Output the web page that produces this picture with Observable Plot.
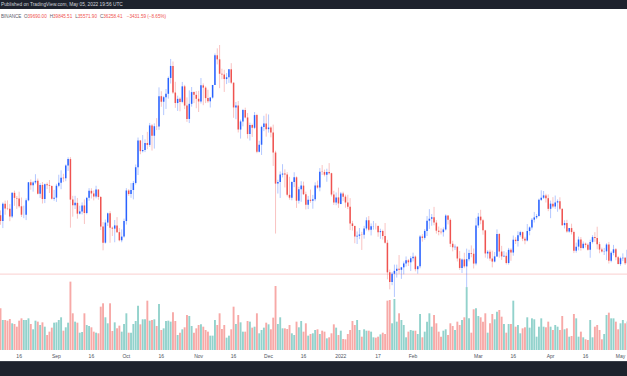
<!DOCTYPE html>
<html><head><meta charset="utf-8">
<script src="https://cdn.jsdelivr.net/npm/d3@7"></script>
<script src="https://cdn.jsdelivr.net/npm/@observablehq/plot@0.6"></script>
<style>
html,body{margin:0;padding:0;background:#fff;width:627px;height:376px;overflow:hidden;font-family:"Liberation Sans",Arial,sans-serif}
#wrap{position:relative;width:627px;height:376px;overflow:hidden}
#top{position:absolute;left:0;top:0;width:627px;height:9px;background:#1e222d;color:#d1d4dc;font-size:4.8px;line-height:9px;white-space:nowrap}
#top span{position:absolute;left:1px;top:0}
#legend{position:absolute;left:1px;top:13.5px;font-size:4.6px;line-height:5px;white-space:nowrap;color:#5d606b;z-index:3}
#legend .v{color:#ef5350;margin-right:3px}
#chart{position:absolute;left:0;top:9px;width:627px;height:352px}
#chart svg{position:absolute;left:0;top:0;background:transparent}
#foot{position:absolute;left:0;top:361px;width:627px;height:15px;background:#1e222d;border-top:1px solid #3a3e49;box-sizing:border-box}
</style></head>
<body>
<div id="wrap">
  <div id="top"><span>Published on TradingView.com, May 05, 2022 19:56 UTC</span></div>
  <div id="legend"></div>
  <div id="chart"></div>
  <div id="foot"></div>
</div>
<script>
const exchange = "BINANCE";
const startDate = "2021-08-08";
const opens = [
44614,43792,46284,45595,45553,44428,47834,47108,47015,45903,44696,44705,46760,49339,48905,49321,49546,47706,48960,46942,49058,48902,48806,46991,
47144,48847,49270,49999,49916,51756,52664,46863,46048,46396,44851,45172,46026,44940,47111,48122,47737,47300,48293,47242,42998,40694,43575,44896,42840,42704,43170,42200,41034,41564,
43790,48165,47657,48233,49245,51493,55339,53797,53963,54963,54691,57485,56006,57367,57347,61672,60875,61528,62010,64280,66001,62193,60688,61286,60852,63078,60328,58413,60575,62253,61859,
61300,60911,63219,62896,61395,60937,61470,63273,67525,66947,64882,64774,64122,64380,65519,63606,60058,60344,56891,58052,59707,58622,56247,57541,57138,58960,53726,54721,57274,57776,
56950,57184,56480,53601,49152,49397,50441,50588,50471,47545,47140,49389,50053,46702,48343,48864,47632,46131,46834,46681,46914,48890,48588,50838,50821,50429,50810,50640,47589,46444,47178,
46216,47722,47286,46446,45832,43451,43082,41566,41679,41864,41822,42729,43902,42560,43059,43084,43071,42201,42352,41660,40680,36445,35071,36244,36660,36958,36809,37160,37716,38166,37881,
38466,38694,36896,37311,41574,41382,42380,43840,44118,44338,43565,42407,42244,42197,42586,44575,43961,40538,40030,40123,38431,37075,38287,37296,38333,39215,39106,37700,
43160,44421,43892,42455,39148,39397,38420,37988,38731,41941,39422,38730,38807,37778,39671,39280,41115,40917,41757,42201,41262,41002,42364,42882,43991,44313,44511,46827,47128,47465,47063,
45538,46281,45868,46453,46622,45555,43206,43503,42287,42782,42207,39521,40127,41147,39942,40552,40378,39678,40801,41493,41358,40480,39709,39441,39450,40427,38112,39235,39742,38597,
37630,38468,38525,37729,39690.00];
const highs = [
45310,46454,46718,46744,46218,47886,48144,47373,47998,47160,46000,47033,49382,49757,49500,50500,49875,49226,49380,49168,49309,49666,48906,48250,
49125,50420,51054,50558,51900,52920,52944,47400,47400,47100,45989,46460,46876,47250,48500,48486,48169,48843,48372,47358,43640,44000,45000,45200,42998,43937,44350,42787,42590,44141,
48495,48359,49228,49530,51886,55750,55339,56100,55489,56561,57839,57680,57777,58532,62933,62378,61718,62695,64486,67000,66639,63732,61747,61500,63710,63293,61496,62499,62980,62359,62405,
62437,64270,63500,63086,62595,61560,63286,67789,68524,69000,65600,65450,64990,65550,66401,63617,60840,60976,58320,59845,60029,59266,57875,57735,59398,59150,55280,57445,58865,59176,
59053,57375,57600,53859,49699,50891,51936,51200,50797,50125,49485,50777,50189,48700,49500,49436,47995,47392,48300,47537,49328,49576,51375,51810,51156,51280,52088,50704,48119,47879,48576,
47954,47990,47570,47557,47070,43816,43145,42300,42786,42248,43100,44322,44500,43448,43800,43475,43176,42691,42559,43505,41100,36835,36499,37550,37545,38919,37234,38000,38720,38359,38744,
39265,38855,37387,41772,41913,42656,44500,45492,44799,45821,43920,43000,42760,42876,44751,44583,44164,40959,40444,40125,39494,38430,39249,39843,39683,40300,39855,44225,
44949,45400,44101,42527,39613,39693,39547,39362,42594,42039,40236,39486,39310,39947,39887,41718,41478,42325,42400,42296,41544,43361,43025,44220,45094,44792,46999,48190,48096,47700,47600,
46720,47213,47444,46890,47200,45555,43900,43970,42800,43410,42414,40699,41561,41500,40870,40709,40595,41116,41760,42199,42976,40795,39980,39940,40617,40797,39474,40372,39925,38795,
38675,39167,38650,39980,39845.51];
const lows = [
43261,42779,44700,45350,43771,44218,45971,45525,45700,44376,44203,43927,46622,48273,48000,49074,47600,47100,46300,46361,48370,47800,46862,46700,
46537,48630,48350,49370,49500,50969,42843,44412,45513,44132,44730,44742,43370,44750,46700,47016,46750,47044,46829,42500,39600,40565,43077,40675,41646,40750,42099,40888,40753,41410,
43283,47400,47120,46891,49022,50382,53357,53617,53661,54080,54415,53879,54167,56818,56850,60150,58963,59844,61322,63481,62000,60000,59562,59510,60650,59817,58000,57820,60174,60673,59945,
59405,60624,60382,60677,60721,60050,61322,63273,66222,62822,64100,62278,63400,63576,63400,58574,58373,56474,55600,57353,58486,55610,55317,55837,56952,53500,53610,53256,56666,55875,
56458,55777,51680,42000,47727,47100,50039,48600,47320,46852,46751,48638,45672,46290,46547,47511,45456,45500,46406,45558,46630,48421,48049,50384,50188,49412,50449,47313,46098,46060,45678,
46208,46654,45696,45502,42500,42430,40610,40501,41200,39650,41268,42450,42311,41725,42555,42581,41540,41250,41138,40553,35440,34008,34601,32917,35701,36234,35507,36155,37268,37351,36632,
38000,36586,36250,37026,40843,41116,41645,42666,43117,43187,42000,41748,41870,41570,42427,43310,40073,39450,39639,38000,36800,36350,37036,34322,38014,38600,37000,37450,
42809,43334,41833,38550,38407,38088,37155,37867,38657,38539,38223,38660,37578,37555,38098,38828,40500,40135,41499,40911,40467,40875,41751,42560,43579,44071,44421,46663,46950,46445,45200,
44200,45620,45530,45118,45353,43121,42727,42107,42125,41868,39200,39254,39588,39551,39766,39991,39546,38536,40571,40820,39751,39177,39285,38929,38200,37702,37881,38881,38175,37578,
37386,38052,37500,37670,35571.90];
const closes = [
43792,46284,45595,45553,44428,47834,47108,47015,45903,44696,44705,46760,49339,48905,49321,49546,47706,48960,46942,49058,48902,48806,46991,47144,
48847,49270,49999,49916,51756,52664,46863,46048,46396,44851,45172,46026,44940,47111,48122,47737,47300,48293,47242,42998,40694,43575,44896,42840,42704,43170,42200,41034,41564,43790,
48165,47657,48233,49245,51493,55339,53797,53963,54963,54691,57485,56006,57367,57347,61672,60875,61528,62010,64280,66001,62193,60688,61286,60852,63078,60328,58413,60575,62253,61859,61300,
60911,63219,62896,61395,60937,61470,63273,67525,66947,64882,64774,64122,64380,65519,63606,60058,60344,56891,58052,59707,58622,56247,57541,57138,58960,53726,54721,57274,57776,56950,
57184,56480,53601,49152,49397,50441,50588,50471,47545,47140,49389,50053,46702,48343,48864,47632,46131,46834,46681,46914,48890,48588,50838,50821,50429,50810,50640,47589,46444,47178,46306,
47722,47286,46446,45832,43451,43082,41566,41679,41864,41822,42729,43902,42560,43059,43084,43071,42201,42352,41660,40680,36445,35071,36244,36660,36958,36809,37160,37716,38166,37881,38466,
38694,36896,37311,41574,41382,42380,43840,44118,44338,43565,42407,42244,42197,42586,44575,43961,40538,40030,40123,38431,37075,38287,37296,38333,39215,39106,37700,43160,
44421,43892,42455,39148,39397,38420,37988,38731,41941,39422,38730,38807,37778,39671,39280,41115,40917,41757,42201,41262,41002,42364,42882,43991,44313,44511,46827,47128,47465,47063,45538,
46281,45868,46453,46622,45555,43206,43503,42287,42782,42207,39521,40127,41147,39942,40552,40378,39678,40801,41493,41358,40480,39709,39441,39450,40427,38112,39235,39742,38597,37630,
38468,38525,37729,39690,36258.41];
// volume, thousands of BTC
const volumes = [
72.9,52.5,52.5,51.3,54.2,46.7,45.5,40.8,51.3,55.4,
52.5,52.5,55.4,45.5,36.2,51.3,49.6,43.7,48.4,40.8,
26.2,32.1,39.1,47.8,48.4,52.5,57.2,33.8,39.7,47.8,
119.6,64.2,49.6,47.8,30.3,31.5,64.2,43.7,42.0,39.7,
32.1,30.3,29.2,75.8,81.7,57.2,46.7,81.7,33.2,48.4,
37.9,42.6,32.1,45.5,64.2,30.3,30.3,45.5,50.7,77.6,
44.9,53.7,53.7,86.3,51.3,52.5,53.7,42.0,80.5,35.0,
37.9,50.7,51.3,49.6,65.9,50.7,26.2,30.3,36.2,39.7,
61.2,59.5,42.0,30.3,37.9,43.7,44.9,40.8,35.0,32.1,
25.1,25.1,52.5,43.7,64.2,36.7,43.7,21.6,25.1,36.2,
75.8,45.5,61.2,48.4,32.1,32.1,50.7,49.6,39.1,40.8,
64.2,29.2,35.0,39.1,47.8,44.9,36.2,56.6,112.0,45.5,
57.2,37.9,37.9,36.7,43.7,29.2,26.2,49.6,39.7,50.7,
32.1,46.7,25.1,28.0,
29.2,35.0,36.2,28.0,33.8,32.1,20.4,22.2,29.2,44.9,
39.1,26.2,33.8,19.2,18.7,28.0,35.0,50.7,43.7,52.5,
35.0,23.3,36.2,33.8,33.8,32.1,22.2,21.6,23.3,27.4,
30.3,28.0,86.3,87.5,46.7,89.2,
49.6,64.2,52.5,43.7,22.2,32.1,35.0,33.8,33.8,28.0,
63.0,22.2,32.1,49.6,64.2,40.8,61.2,46.7,32.1,23.3,
33.8,36.2,26.2,46.7,42.0,35.0,49.6,43.7,52.5,57.2,
110.0,
55.4,30.3,71.2,72.9,59.5,57.2,49.6,64.2,30.3,46.7,
63.0,53.7,67.1,70.0,58.3,45.5,30.3,45.5,45.5,86.3,
40.8,43.7,29.2,37.9,39.7,57.2,39.1,55.4,53.7,23.3,
40.8,55.4,40.8,39.7,49.6,40.8,35.0,43.7,40.8,35.0,
59.5,36.2,37.9,23.3,24.5,63.0,55.4,23.3,32.1,22.2,
18.7,17.5,52.5,22.2,40.8,43.7,35.0,18.7,28.0,61.2,
65.3,55.4,55.4,49.6,36.2,46.7,52.5,46.7,
50.0,80.0];
const tickDates = ["2021-08-16","2021-09-01","2021-09-16","2021-10-01","2021-10-16","2021-11-01","2021-11-16","2021-12-01","2021-12-16","2022-01-01","2022-01-17","2022-02-01","2022-03-01","2022-03-16","2022-04-01","2022-04-16","2022-05-01"];
const tickLabels = ["16","Sep","16","Oct","16","Nov","16","Dec","16","2022","17","Feb","Mar","16","Apr","16","May"];

const upColor = "#2962ff", downColor = "#ef5350";
const volUp = "#92d2cc", volDown = "#f7a9a7";

const start = new Date(startDate + "T00:00:00Z");
const rows = opens.map((o, i) => ({
  date: d3.utcDay.offset(start, i),
  open: o, high: highs[i], low: lows[i], close: closes[i], volume: volumes[i]
}));
const ticks = tickDates.map(s => new Date(s + "T00:00:00Z"));
const labelOf = new Map(ticks.map((t, i) => [+t, tickLabels[i]]));

const W = 627, H = 352;
const xScale = {type: "utc", domain: [new Date("2021-08-08T00:00:00Z"), new Date("2022-05-04T00:00:00Z")], range: [0, W], axis: null};

const volPlot = Plot.plot({
  width: W, height: H, margin: 0,
  x: xScale,
  y: {domain: [0, 120], range: [341, 341 - 68.6], axis: null},
  color: {type: "identity"},
  marks: [
    Plot.ruleX(rows, {x: "date", y1: 0, y2: "volume", stroke: d => d.close >= d.open ? volUp : volDown, strokeWidth: 1.9, clip: true})
  ]
});

const last = rows[rows.length - 1], prev = rows[rows.length - 2];
const pricePlot = Plot.plot({
  width: W, height: H, margin: 0, marginBottom: 9,
  style: {fontFamily: "Liberation Sans, Arial, sans-serif", fontSize: "5px", color: "#50535e", background: "transparent"},
  x: xScale,
  y: {domain: [30000, 69000], range: [36 + 39000 / 143.2, 36], axis: null},
  color: {type: "identity"},
  marks: [
    Plot.ruleY([last.close], {stroke: downColor, strokeOpacity: 0.22, strokeWidth: 1.2}),
    Plot.ruleX(rows, {x: "date", y1: "low", y2: "high", stroke: d => d.close >= d.open ? upColor : downColor, strokeOpacity: 0.35, strokeWidth: 1, clip: true}),
    Plot.ruleX(rows, {x: "date", y1: "open", y2: "close", stroke: d => d.close >= d.open ? upColor : downColor, strokeWidth: 1.5, clip: true}),
    Plot.axisX(ticks, {tickSize: 0, tickPadding: 2, tickFormat: d => labelOf.get(+d)})
  ]
});

const chart = document.getElementById("chart");
chart.appendChild(volPlot);
chart.appendChild(pricePlot);

const chg = last.close - prev.close;
const pct = chg / prev.close * 100;
const fmt = v => v.toFixed(2);
const minus = v => (v < 0 ? "\u2212" : "+") + Math.abs(v).toFixed(2);
document.getElementById("legend").innerHTML =
  `${exchange}&nbsp; O<span class="v">${fmt(last.open)}</span>H<span class="v">${fmt(last.high)}</span>L<span class="v">${fmt(last.low)}</span>C<span class="v">${fmt(last.close)}</span><span class="v">&nbsp;${minus(chg)} (${minus(pct)}%)</span>`;
</script>
</body></html>
